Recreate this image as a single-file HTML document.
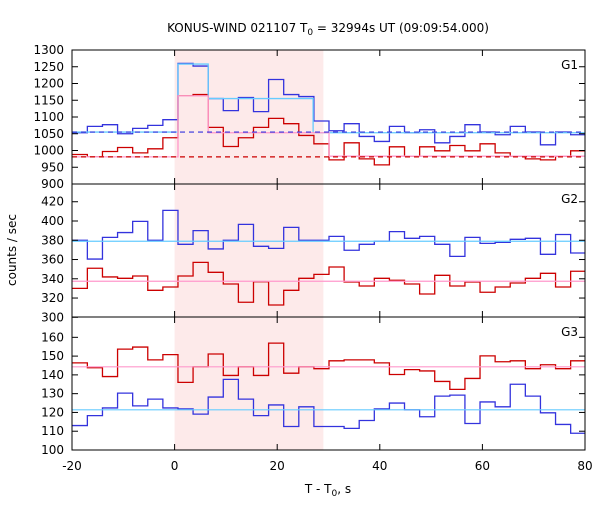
<!DOCTYPE html>
<html><head><meta charset="utf-8"><style>body{margin:0;background:#fff}svg text{font-family:"DejaVu Sans","Liberation Sans",sans-serif;font-size:12px}</style></head>
<body>
<svg id="c" width="600" height="500" xmlns="http://www.w3.org/2000/svg">
<defs><clipPath id="pc"><rect x="72" y="50" width="513" height="400"/></clipPath></defs>
<text x="328" y="32" text-anchor="middle">KONUS-WIND 021107 T<tspan font-size="9" dy="3">0</tspan><tspan dy="-3"> = 32994s UT (09:09:54.000)</tspan></text>
<text x="328" y="493" text-anchor="middle">T - T<tspan font-size="9" dy="3">0</tspan><tspan dy="-3">, s</tspan></text>
<text transform="translate(16,250) rotate(-90)" text-anchor="middle">counts / sec</text>
<g id="g"></g>
</svg>
<script>
const binStart = -19.95, binWidth = 2.944;
const g1Blue = [1053,1072,1077,1050,1066,1075,1092,1260,1252,1155,1119,1158,1116,1212,1167,1161,1088,1059,1080,1042,1027,1072,1053,1062,1023,1042,1077,1055,1047,1072,1055,1017,1055,1047];
const g1Red = [988,981,997,1009,993,1005,1038,1163,1167,1069,1012,1038,1069,1096,1080,1045,1020,972,1023,975,957,1011,983,1011,999,1015,999,1020,993,983,975,972,983,999];
const g2Blue = [380,360.5,383,388,399.6,380,411,375.8,390,371,380,396.5,373.7,371.6,393.4,380,380,384,369.6,375.8,379,389,382,384,375.8,363.3,383,376.8,377.8,381,382,365.4,386,366.8];
const g2Red = [330,350.9,341.9,340.5,342.9,328,331.5,342.9,357,346.7,334.6,315.6,337,312.8,328,340.5,344.6,352.2,336.7,332.5,340.5,338.4,334.6,324.2,343.6,332.5,336.7,326,331.5,335.6,340.5,345.7,331.5,347.8];
const g3Blue = [113,118.3,122.4,130.3,123.5,127.1,122.4,121.9,119.1,128.2,137.6,127.1,118.3,124,112.5,123,112.5,112.5,111.5,115.7,121.9,125,121.4,117.7,128.7,129.2,114.1,125.6,123,135,128.7,119.8,113.6,108.9];
const g3Red = [146.4,143.8,139.1,153.7,154.8,148,150.8,136,144.3,151.1,139.7,144.3,139.7,156.9,140.9,144.3,143.3,147.5,148,148,146.4,140.2,142.8,142.1,136.5,132.3,138.1,150.1,147,147.5,143.3,145.4,143.3,147.5];
const g1BlueFitT = [-20,0.66,6.55,27.0,80];
const g1BlueFitV = [1055,1258,1155,1053];
const g1RedFitT = [-20,0.66,6.55,30.1,80];
const g1RedFitV = [981,1163,1053,983];
const g1BlueBg = 1055, g1RedBg = 981;
const g2BlueBg = 379, g2RedBg = 337.4;
const g3BlueBg = 121.4, g3RedBg = 144.3;
const xTicks = [-20,0,20,40,60,80];
const g1Ticks = [900,950,1000,1050,1100,1150,1200,1250,1300];
const g2Ticks = [300,320,340,360,380,400,420];
const g3Ticks = [100,110,120,130,140,150,160];
const shadeT = [0,29];

const NS="http://www.w3.org/2000/svg", G=document.getElementById('g');
function el(t,a,p){const e=document.createElementNS(NS,t);for(const k in a)e.setAttribute(k,a[k]);(p||G).appendChild(e);return e;}
const X=t=>72+(t+20)*5.13;
const panels=[
 {name:'g1',top:50,bot:184,y:v=>50+(1300-v)*134/400,ticks:g1Ticks,lab:'G1'},
 {name:'g2',top:184,bot:317,y:v=>317.3-(v-300)*0.963,ticks:g2Ticks,lab:'G2'},
 {name:'g3',top:317,bot:450,y:v=>450-(v-100)*1.878,ticks:g3Ticks,lab:'G3'}];
const sh=el('rect',{x:X(shadeT[0]),y:50,width:X(shadeT[1])-X(shadeT[0]),height:400,fill:'#fdeaea'});


const cg=el('g',{'clip-path':'url(#pc)'});
function step(vals,Y,col,nm){let d='';vals.forEach((v,i)=>{const x0=X(binStart+i*binWidth),x1=X(binStart+(i+1)*binWidth);d+=(i?'L':'M')+x0+','+Y(v)+'L'+x1+','+Y(v);});
 const p=el('path',{d:d,fill:'none',stroke:col,'stroke-width':1.3},cg);
 
 }
function fit(ts,vs,Y,col,nm){let d='';vs.forEach((v,i)=>{d+=(i?'L':'M')+X(ts[i])+','+Y(v)+'L'+X(ts[i+1])+','+Y(v);});
 const p=el('path',{d:d,fill:'none',stroke:col,'stroke-width':1.3},cg);
 
 }
function hline(v,Y,col,dash,nm){const l=el('line',{x1:72,x2:585,y1:Y(v),y2:Y(v),stroke:col,'stroke-width':1.2},cg);if(dash)l.setAttribute('stroke-dasharray','5,4');
 
 }
const P=panels;
step(g1Blue,P[0].y,'#3333dd','g1-blue-series');
step(g1Red,P[0].y,'#cc0000','g1-red-series');
fit(g1BlueFitT,g1BlueFitV,P[0].y,'#66ccff','g1-blue-fit');
fit(g1RedFitT,g1RedFitV,P[0].y,'#ff99cc','g1-red-fit');
hline(g1BlueBg,P[0].y,'#3333dd',true,'g1-blue-background');
hline(g1RedBg,P[0].y,'#cc0000',true,'g1-red-background');
step(g2Blue,P[1].y,'#3333dd','g2-blue-series');
step(g2Red,P[1].y,'#cc0000','g2-red-series');
hline(g2BlueBg,P[1].y,'#66ccff',false,'g2-blue-background');
hline(g2RedBg,P[1].y,'#ff99cc',false,'g2-red-background');
step(g3Blue,P[2].y,'#3333dd','g3-blue-series');
step(g3Red,P[2].y,'#cc0000','g3-red-series');
hline(g3BlueBg,P[2].y,'#66ccff',false,'g3-blue-background');
hline(g3RedBg,P[2].y,'#ff99cc',false,'g3-red-background');
P.forEach((p,pi)=>{
 const r=el('rect',{x:72,y:p.top,width:513,height:p.bot-p.top,fill:'none',stroke:'#000','stroke-width':1});
 
 
 p.ticks.forEach((v,i)=>{const yy=p.y(v);
  el('line',{x1:72,x2:78,y1:yy,y2:yy,stroke:'#000'});el('line',{x1:579,x2:585,y1:yy,y2:yy,stroke:'#000'});
  if(pi>0&&i==p.ticks.length-1&&yy<p.top+10)return;
  const t=el('text',{x:64,y:yy+4,'text-anchor':'end'});t.textContent=v;
  
  });
 xTicks.forEach(v=>{el('line',{x1:X(v),x2:X(v),y1:p.bot,y2:p.bot-6,stroke:'#000'});el('line',{x1:X(v),x2:X(v),y1:p.top,y2:p.top+6,stroke:'#000'});});
 const lt=el('text',{x:578,y:p.top+19,'text-anchor':'end'});lt.textContent=p.lab;
 
 
});
xTicks.forEach(v=>{const t=el('text',{x:X(v),y:470,'text-anchor':'middle'});t.textContent=v;
 
 });
</script>
</body></html>
